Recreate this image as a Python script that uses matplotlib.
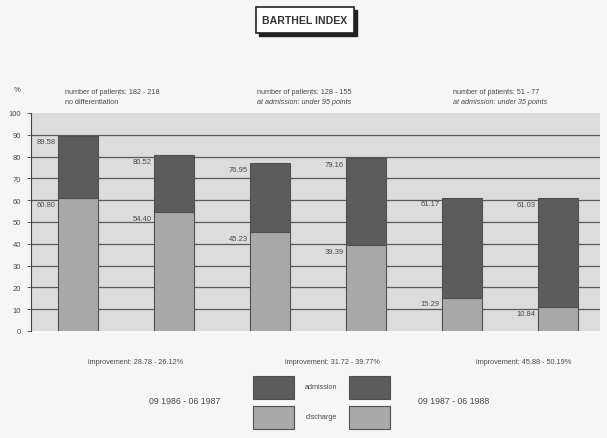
import matplotlib.pyplot as plt
from matplotlib.patches import Rectangle

# Barthel index, admission vs discharge (%)
groups = ['no differentiation', 'at admission: under 95 points', 'at admission: under 35 points']
patients = ['number of patients: 182 - 218', 'number of patients: 128 - 155', 'number of patients: 51 - 77']
admission = [60.80, 54.40, 45.23, 39.39, 15.29, 10.84]
discharge = [89.58, 80.52, 76.95, 79.16, 61.17, 61.03]
improvement = ['improvement: 28.78 - 26.12%', 'improvement: 31.72 - 39.77%', 'improvement: 45.88 - 50.19%']
periods = ['09 1986 - 06 1987', '09 1987 - 06 1988']

W, H = 607, 439
DARK = '#5c5c5c'
LIGHT = '#a9a9a9'
EDGE = '#505050'
TXT = '#4a4a4a'

def fx(x):
    return x / W

def fy(y):
    return 1 - y / H

fig = plt.figure(figsize=(W / 100, H / 100), dpi=100)
fig.patch.set_facecolor('#f6f6f6')
plt.rcParams['font.family'] = ['Liberation Sans', 'DejaVu Sans']

ax = fig.add_axes([fx(31), fy(332), fx(600) - fx(31), fy(114) - fy(332)])
ax.set_facecolor('#dcdcdc')

x = list(range(len(admission)))
ax.set_xlim(-0.49, 5.44)
ax.set_ylim(0, 100)
for v in range(10, 100, 10):
    ax.axhline(v, color='#5a5a5a', lw=0.9, zorder=1)

bw = 0.42
ax.bar(x, admission, width=bw, color=LIGHT, edgecolor=EDGE, lw=0.8, zorder=3)
ax.bar(x, [d - a for a, d in zip(admission, discharge)], bottom=admission,
       width=bw, color=DARK, edgecolor=EDGE, lw=0.8, zorder=3)

for i in x:
    for v in (admission[i], discharge[i]):
        ax.annotate(f'{v:.2f}', (i - bw / 2, v), xytext=(-1.5, -2),
                    textcoords='offset points', ha='right', va='top',
                    fontsize=5.5, color=TXT, zorder=4)

ax.set_yticks(range(0, 101, 10))
ax.tick_params(axis='y', labelsize=5.5, labelcolor=TXT, length=3, width=0.6,
               color='#444444', pad=4)
ax.set_xticks([])
for s in ['top', 'right', 'bottom']:
    ax.spines[s].set_visible(False)
ax.spines['left'].set_color('#444444')
ax.spines['left'].set_linewidth(0.8)

# title box with shadow
fig.patches.append(Rectangle((fx(259), fy(37)), fx(98), fy(0) - fy(26),
                             transform=fig.transFigure, color='#222222'))
fig.patches.append(Rectangle((fx(256), fy(34)), fx(98), fy(0) - fy(26),
                             transform=fig.transFigure, facecolor='white',
                             edgecolor='#222222', lw=1.2))
fig.text(fx(305), fy(21), 'BARTHEL INDEX', ha='center', va='center',
         fontsize=7.6, fontweight='bold', color='#333333')

fig.text(fx(14), fy(90), '%', fontsize=5.5, color=TXT, va='center')
for xp, p, g in zip([65, 257, 453], patients, groups):
    fig.text(fx(xp), fy(93), p, fontsize=5.2, color=TXT, va='center')
    fig.text(fx(xp), fy(103), g, fontsize=5.2, color=TXT, va='center',
             style='normal' if g == 'no differentiation' else 'italic')

for xp, t in zip([136, 332, 524], improvement):
    fig.text(fx(xp), fy(363), t, fontsize=5.2, color=TXT, ha='center', va='center')

for xp, t in zip([185, 454], periods):
    fig.text(fx(xp), fy(402), t, fontsize=6.3, color=TXT, ha='center', va='center')

# legend
for y0, col, lab in [(377, DARK, 'admission'), (407, LIGHT, 'discharge')]:
    for x0 in (253, 349):
        fig.patches.append(Rectangle((fx(x0), fy(y0 + 23)), fx(41), fy(0) - fy(23),
                                     transform=fig.transFigure, facecolor=col,
                                     edgecolor=EDGE, lw=0.8))
    fig.text(fx(321), fy(y0 + 11), lab, fontsize=5.2, color=TXT,
             ha='center', va='center')

fig.savefig('out.png', dpi=100, facecolor=fig.get_facecolor())
